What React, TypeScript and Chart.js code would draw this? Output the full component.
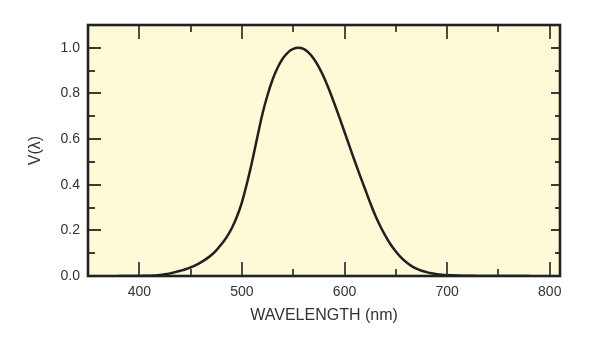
import React, { useEffect, useRef } from "react";
import { Chart, registerables } from "chart.js";

Chart.register(...registerables);

// CIE photopic luminosity function V(λ), 5 nm steps
const wavelengths = [
  380, 385, 390, 395, 400, 405, 410, 415, 420, 425, 430, 435, 440, 445, 450, 455,
  460, 465, 470, 475, 480, 485, 490, 495, 500, 505, 510, 515, 520, 525, 530, 535,
  540, 545, 550, 555, 560, 565, 570, 575, 580, 585, 590, 595, 600, 605, 610, 615,
  620, 625, 630, 635, 640, 645, 650, 655, 660, 665, 670, 675, 680, 685, 690, 695,
  700, 705, 710, 715, 720, 725, 730, 735, 740, 745, 750, 755, 760, 765, 770, 775, 780,
];
const vLambda = [
  0.000039, 0.000064, 0.00012, 0.000217, 0.000396, 0.00064, 0.00121, 0.00218,
  0.004, 0.0073, 0.0116, 0.01684, 0.023, 0.0298, 0.038, 0.048,
  0.06, 0.0739, 0.09098, 0.1126, 0.13902, 0.1693, 0.20802, 0.2586,
  0.323, 0.4073, 0.503, 0.6082, 0.71, 0.7932, 0.862, 0.91485,
  0.954, 0.9803, 0.99495, 1.0, 0.995, 0.9786, 0.952, 0.9154,
  0.87, 0.8163, 0.757, 0.6949, 0.631, 0.5668, 0.503, 0.4412,
  0.381, 0.321, 0.265, 0.217, 0.175, 0.1382, 0.107, 0.0816,
  0.061, 0.04458, 0.032, 0.0232, 0.017, 0.01192, 0.00821, 0.005723,
  0.004102, 0.002929, 0.002091, 0.001484, 0.001047, 0.00074, 0.00052, 0.000361,
  0.000249, 0.000172, 0.00012, 0.000085, 0.00006, 0.000042, 0.00003, 0.000021, 0.000015,
];

const xMajorTicks = [400, 500, 600, 700, 800];
const xMinorTicks = [450, 550, 650, 750];
const yMajorTicks = [0, 0.2, 0.4, 0.6, 0.8, 1.0];
const yMinorTicks = [0.1, 0.3, 0.5, 0.7, 0.9];

const xTitle = "WAVELENGTH (nm)";
const yTitle = "V(λ)";

const FONT = "'Liberation Sans', Arial, Helvetica, sans-serif";
const TEXT = "#333333";

const framePlugin = {
  id: "frameTicks",
  beforeDraw(chart: any) {
    const { ctx, chartArea } = chart;
    const { left, right, top, bottom } = chartArea;
    ctx.save();
    ctx.fillStyle = "#fef9d6";
    ctx.fillRect(left, top, right - left, bottom - top);
    ctx.restore();
  },
  afterDraw(chart: any) {
    const { ctx, chartArea } = chart;
    const { left, right, top, bottom } = chartArea;
    const xs = chart.scales.x;
    const ys = chart.scales.y;
    ctx.save();
    ctx.strokeStyle = "#3a3a3a";
    ctx.lineWidth = 1.8;
    ctx.beginPath();
    const vx = (v: number, len: number) => {
      const p = Math.round(xs.getPixelForValue(v));
      ctx.moveTo(p, bottom);
      ctx.lineTo(p, bottom - len);
      ctx.moveTo(p, top);
      ctx.lineTo(p, top + len);
    };
    xMajorTicks.forEach((v) => vx(v, 14));
    xMinorTicks.forEach((v) => vx(v, 7));
    const hy = (v: number, lenL: number, lenR: number) => {
      const p = Math.round(ys.getPixelForValue(v));
      ctx.moveTo(left, p);
      ctx.lineTo(left + lenL, p);
      ctx.moveTo(right, p);
      ctx.lineTo(right - lenR, p);
    };
    yMajorTicks.forEach((v) => hy(v, 13, 9));
    yMinorTicks.forEach((v) => hy(v, 7, 5));
    ctx.stroke();
    ctx.strokeStyle = "#222222";
    ctx.lineWidth = 2.6;
    ctx.strokeRect(left, top, right - left, bottom - top);
    ctx.restore();
  },
};

export default function App() {
  const ref = useRef<HTMLCanvasElement | null>(null);
  useEffect(() => {
    if (!ref.current) return;
    const chart = new Chart(ref.current, {
      type: "line",
      data: {
        datasets: [
          {
            data: wavelengths.map((w, i) => ({ x: w, y: vLambda[i] })),
            borderColor: "#231f20",
            borderWidth: 2.5,
            pointRadius: 0,
            tension: 0.4,
            cubicInterpolationMode: "monotone",
            fill: false,
          },
        ],
      },
      options: {
        animation: false,
        responsive: false,
        layout: { padding: { left: 0, top: 25, right: 40, bottom: 0 } },
        plugins: {
          legend: { display: false },
          tooltip: { enabled: false },
        },
        scales: {
          x: {
            type: "linear",
            min: 350,
            max: 810,
            afterBuildTicks: (s: any) => {
              s.ticks = xMajorTicks.map((v) => ({ value: v }));
            },
            afterFit: (s: any) => {
              s.height = 62;
            },
            grid: { display: false, drawTicks: false },
            border: { display: false },
            ticks: {
              padding: 8,
              color: TEXT,
              font: { family: FONT, size: 14 },
              maxRotation: 0,
              callback: (v: any) => String(v),
            },
            title: {
              display: true,
              text: xTitle,
              color: TEXT,
              font: { family: FONT, size: 16 },
              padding: { top: 0, bottom: 13 },
            },
          },
          y: {
            type: "linear",
            min: 0,
            max: 1.1,
            afterBuildTicks: (s: any) => {
              s.ticks = yMajorTicks.map((v) => ({ value: v }));
            },
            afterFit: (s: any) => {
              s.width = 88;
            },
            grid: { display: false, drawTicks: false },
            border: { display: false },
            ticks: {
              padding: 8,
              color: TEXT,
              font: { family: FONT, size: 14 },
              callback: (v: any) => Number(v).toFixed(1),
            },
            title: {
              display: true,
              text: yTitle,
              color: TEXT,
              font: { family: FONT, size: 16 },
              padding: { top: 26, bottom: 0 },
            },
          },
        },
      },
      plugins: [framePlugin],
    } as any);
    return () => chart.destroy();
  }, []);
  return (
    <div style={{ position: "fixed", left: 0, top: 0, width: 600, height: 338, background: "#ffffff" }}>
      <canvas ref={ref} width={600} height={338} style={{ display: "block" }} />
    </div>
  );
}
